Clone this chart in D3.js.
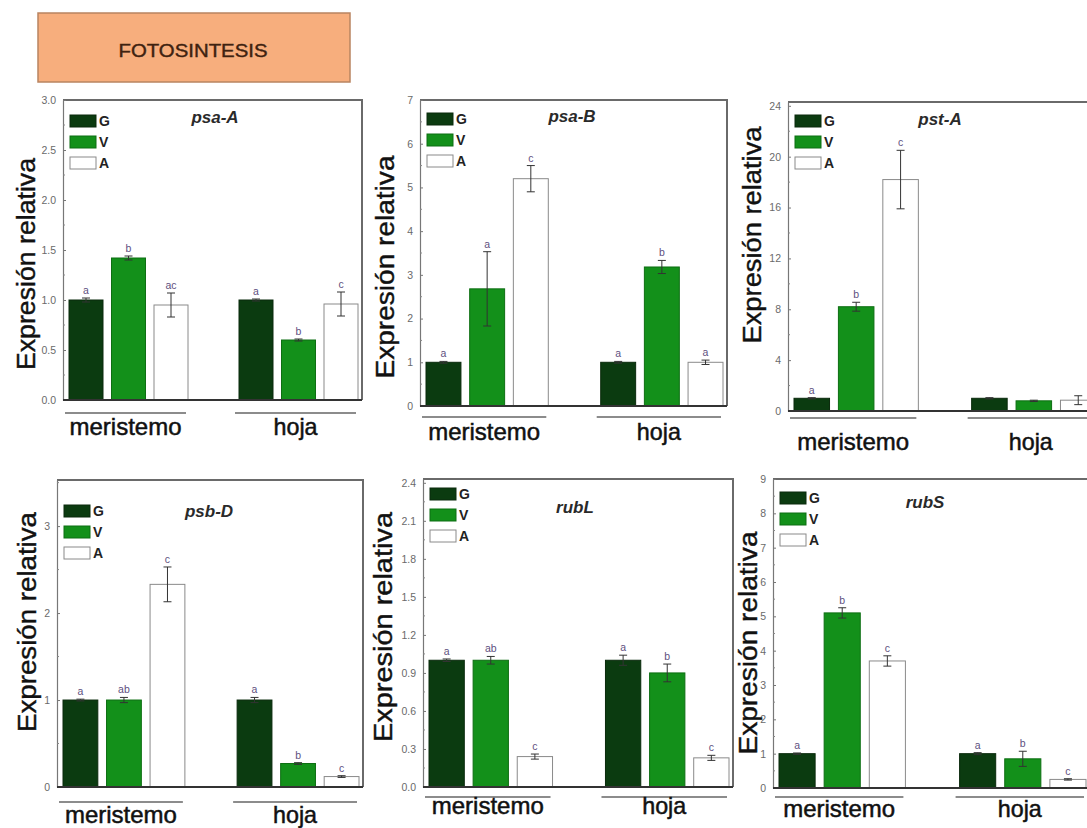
<!DOCTYPE html>
<html>
<head>
<meta charset="utf-8">
<script src="https://cdn.jsdelivr.net/npm/d3@7"></script>
<style>
  body { margin: 0; background: #fff; }
  svg { display: block; font-family: "Liberation Sans", Arial, sans-serif; }
</style>
</head>
<body>
<svg id="chart" width="1087" height="828"></svg>
<script>
// categories
const groups = ["meristemo", "hoja"];
const series = ["G", "V", "A"];
const genes = ["psa-A", "psa-B", "pst-A", "psb-D", "rubL", "rubS"];

// values [group][series]
const psaA = [[1.00, 1.42, 0.95], [1.00, 0.60, 0.96]];
const psaAErr = [[0.02, 0.02, 0.12], [0.01, 0.01, 0.12]];
const psaALetters = [["a", "b", "ac"], ["a", "b", "c"]];

const psaB = [[1.00, 2.68, 5.20], [1.00, 3.18, 1.00]];
const psaBErr = [[0.02, 0.85, 0.30], [0.02, 0.15, 0.05]];
const psaBLetters = [["a", "a", "c"], ["a", "b", "a"]];

const pstA = [[1.00, 8.20, 18.2], [1.00, 0.80, 0.85]];
const pstAErr = [[0.05, 0.35, 2.30], [0.05, 0.05, 0.35]];
const pstALetters = [["a", "b", "c"], ["", "", ""]];

const psbD = [[1.00, 1.00, 2.33], [1.00, 0.27, 0.12]];
const psbDErr = [[0.01, 0.03, 0.20], [0.03, 0.01, 0.01]];
const psbDLetters = [["a", "ab", "c"], ["a", "b", "c"]];

const rubL = [[1.00, 1.00, 0.24], [1.00, 0.90, 0.23]];
const rubLErr = [[0.01, 0.03, 0.02], [0.04, 0.07, 0.02]];
const rubLLetters = [["a", "ab", "c"], ["a", "b", "c"]];

const rubS = [[1.00, 5.10, 3.70], [1.00, 0.85, 0.25]];
const rubSErr = [[0.02, 0.15, 0.15], [0.03, 0.22, 0.02]];
const rubSLetters = [["a", "b", "c"], ["a", "b", "c"]];

// y axes: max, major tick step, minor step
const yMax = [3.0, 7, 24.3, 3.53, 2.43, 9];
const yStep = [0.5, 1, 4, 1, 0.3, 1];
const yMinor = [0.25, 0.5, 2, 0.5, 0.15, 0.5];
const yFormat = [".1f", "d", "d", "d", ".1f", "d"];

const allValues = [psaA, psaB, pstA, psbD, rubL, rubS];
const allErrors = [psaAErr, psaBErr, pstAErr, psbDErr, rubLErr, rubSErr];
const allLetters = [psaALetters, psaBLetters, pstALetters, psbDLetters, rubLLetters, rubSLetters];

// panel layout (plot box + placement of the text bits)
const layout = [
  { l: 63,  t: 100, r: 362,  b: 400, yl: [26, 264, 212],  leg: 15, title: 23, under: 13, lab: 35 },
  { l: 420, t: 100, r: 727,  b: 406, yl: [385, 267, 223], leg: 13, title: 22, under: 11, lab: 34 },
  { l: 788, t: 102, r: 1100, b: 411, yl: [752, 235, 217], leg: 13, title: 23, under: 7,  lab: 39 },
  { l: 57,  t: 480, r: 363,  b: 787, yl: [27, 622, 220],  leg: 25, title: 37, under: 15, lab: 36 },
  { l: 423, t: 479, r: 733,  b: 787, yl: [383, 627, 230], leg: 9,  title: 34, under: 10, lab: 27 },
  { l: 773, t: 479, r: 1090, b: 788, yl: [748, 643, 223], leg: 13, title: 29, under: 9,  lab: 29 }
];

const colors = { G: "#0b3b10", V: "#13901a", A: "#ffffff" };
const strokes = { G: "#0a2a0c", V: "#0d6e12", A: "#8a8a8a" };

const svg = d3.select("#chart");

// title box
svg.append("rect")
  .attr("x", 38).attr("y", 13).attr("width", 312).attr("height", 69)
  .attr("fill", "#f7ae7d").attr("stroke", "#b98460").attr("stroke-width", 1.5);
svg.append("text")
  .attr("x", 193).attr("y", 57)
  .attr("text-anchor", "middle")
  .attr("font-size", 18)
  .attr("textLength", 149).attr("lengthAdjust", "spacingAndGlyphs")
  .attr("fill", "#3e2210").attr("stroke", "#3e2210").attr("stroke-width", 0.4)
  .text("FOTOSINTESIS");

genes.forEach((gene, i) => drawPanel(i));

function drawPanel(i) {
  const L = layout[i];
  const values = allValues[i];
  const errors = allErrors[i];
  const letters = allLetters[i];
  const g = svg.append("g");

  const y = d3.scaleLinear().domain([0, yMax[i]]).range([L.b, L.t]);
  const x0 = d3.scaleBand().domain(groups).range([L.l + 6, L.r - 4]).paddingInner(0.3);
  const x1 = d3.scaleBand().domain(series).range([0, x0.bandwidth()]).paddingInner(0.2);

  // frame (top + right)
  g.append("path")
    .attr("d", `M${L.l},${L.t}H${L.r}V${L.b}`)
    .attr("fill", "none").attr("stroke", "#6a6a6a").attr("stroke-width", 2);

  // y axis
  const major = d3.range(0, yMax[i] + 1e-9, yStep[i]);
  const minor = d3.range(0, yMax[i] + 1e-9, yMinor[i]);
  const yAxis = g.append("g")
    .attr("transform", `translate(${L.l},0)`)
    .call(d3.axisLeft(y).tickValues(major).tickFormat(d3.format(yFormat[i]))
      .tickSizeInner(-3).tickSizeOuter(0).tickPadding(7));
  yAxis.select(".domain").attr("stroke", "#777").attr("stroke-width", 1.2);
  yAxis.selectAll(".tick line").attr("stroke", "#777");
  yAxis.selectAll(".tick text").attr("fill", "#6a6a6a").attr("font-size", 10.5)
    .attr("font-family", "'Liberation Sans', Arial, sans-serif");
  g.append("g").selectAll("line")
    .data(minor.filter(v => !major.some(m => Math.abs(m - v) < 1e-9)))
    .join("line")
    .attr("x1", L.l).attr("x2", L.l + 2)
    .attr("y1", d => y(d)).attr("y2", d => y(d))
    .attr("stroke", "#888");

  // y label
  g.append("text")
    .attr("transform", `translate(${L.yl[0]},${L.yl[1]}) rotate(-90)`)
    .attr("text-anchor", "middle").attr("dy", "0.35em")
    .attr("font-size", 25)
    .attr("textLength", L.yl[2]).attr("lengthAdjust", "spacingAndGlyphs")
    .attr("fill", "#111").attr("stroke", "#111").attr("stroke-width", 0.4)
    .text("Expresión relativa");

  // bars
  const rows = [];
  groups.forEach((grp, gi) => series.forEach((s, si) => {
    rows.push({ grp, s, v: values[gi][si], e: errors[gi][si], letter: letters[gi][si] });
  }));

  const bx = d => x0(d.grp) + x1(d.s);
  const bars = g.append("g").selectAll("g").data(rows).join("g");
  bars.append("rect")
    .attr("x", bx).attr("width", x1.bandwidth())
    .attr("y", d => y(d.v)).attr("height", d => L.b - y(d.v))
    .attr("fill", d => colors[d.s])
    .attr("stroke", d => strokes[d.s]).attr("stroke-width", 1);

  // error bars
  const cx = d => bx(d) + x1.bandwidth() / 2;
  bars.append("path")
    .attr("d", d => {
      const top = y(d.v + d.e), bot = y(d.v - d.e), c = cx(d);
      return `M${c},${top}V${bot}M${c - 4},${top}H${c + 4}M${c - 4},${bot}H${c + 4}`;
    })
    .attr("stroke", "#333").attr("stroke-width", 1).attr("fill", "none");

  bars.append("text")
    .attr("x", cx).attr("y", d => y(d.v + d.e) - 4)
    .attr("text-anchor", "middle")
    .attr("font-size", 10.5).attr("fill", "#5e5080")
    .text(d => d.letter);

  // bottom axis
  g.append("line")
    .attr("x1", L.l).attr("x2", L.r).attr("y1", L.b).attr("y2", L.b)
    .attr("stroke", "#333").attr("stroke-width", 2.2);

  // group underline + labels
  groups.forEach(grp => {
    const xs = x0(grp) - 4, xe = x0(grp) + x0.bandwidth() - 2;
    g.append("line")
      .attr("x1", xs).attr("x2", xe)
      .attr("y1", L.b + L.under).attr("y2", L.b + L.under)
      .attr("stroke", "#666").attr("stroke-width", 1.5);
    g.append("text")
      .attr("x", (xs + xe) / 2).attr("y", L.b + L.lab)
      .attr("text-anchor", "middle")
      .attr("font-size", 24)
      .attr("textLength", grp === "meristemo" ? 112 : 44)
      .attr("lengthAdjust", "spacingAndGlyphs")
      .attr("fill", "#111").attr("stroke", "#111").attr("stroke-width", 0.5)
      .text(grp);
  });

  // legend
  const leg = g.append("g").attr("transform", `translate(${L.l + 7},${L.t + L.leg})`);
  series.forEach((s, si) => {
    leg.append("rect")
      .attr("x", 0).attr("y", si * 21).attr("width", 26).attr("height", 12)
      .attr("fill", colors[s]).attr("stroke", strokes[s]).attr("stroke-width", 1);
    leg.append("text")
      .attr("x", 29).attr("y", si * 21 + 11)
      .attr("font-size", 14).attr("font-weight", "bold").attr("fill", "#222")
      .text(s);
  });

  // gene name
  g.append("text")
    .attr("x", L.l + 152).attr("y", L.t + L.title)
    .attr("text-anchor", "middle")
    .attr("font-size", 17).attr("font-style", "italic").attr("font-weight", "bold")
    .attr("fill", "#2a2a2a")
    .text(genes[i]);
}
</script>
</body>
</html>
